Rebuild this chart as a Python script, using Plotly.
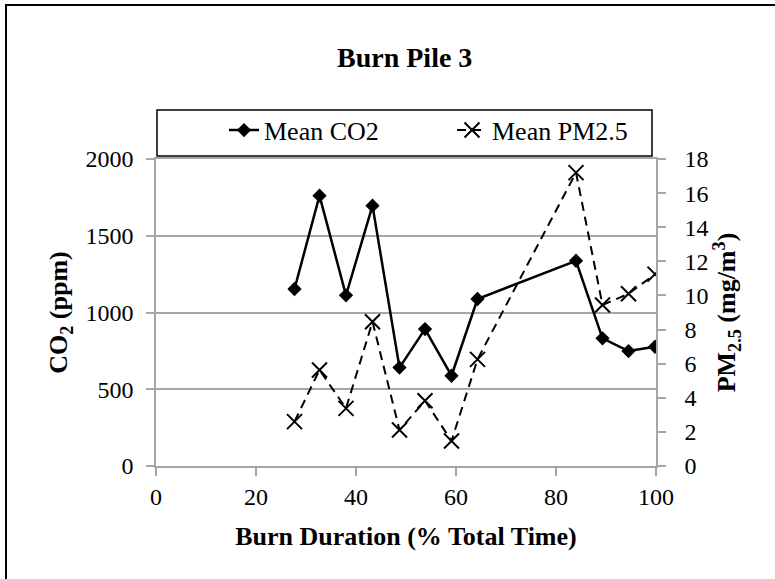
import plotly.graph_objects as go

# Data
burn_pct = [27.7, 32.7, 38.0, 43.3, 48.7, 53.8, 59.1, 64.3, 84.0, 89.3, 94.5, 99.8]
mean_co2 = [1153, 1761, 1112, 1696, 641, 892, 588, 1088, 1337, 832, 749, 777]
mean_pm25 = [2.6, 5.63, 3.38, 8.46, 2.11, 3.83, 1.47, 6.25, 17.2, 9.44, 10.1, 11.25]

x_ticks = [0, 20, 40, 60, 80, 100]
co2_ticks = [0, 500, 1000, 1500, 2000]
pm_ticks = [0, 2, 4, 6, 8, 10, 12, 14, 16, 18]

FONT = "Liberation Serif"
GRAY = "#a6a6a6"

fig = go.Figure()
fig.add_trace(go.Scatter(
    x=burn_pct, y=mean_co2, name="Mean CO2", mode="lines+markers",
    line=dict(color="black", width=2.5),
    marker=dict(symbol="diamond", size=11, color="black"),
    yaxis="y", legend="legend"))
fig.add_trace(go.Scatter(
    x=burn_pct, y=mean_pm25, name="Mean PM2.5", mode="lines+markers",
    line=dict(color="black", width=2, dash="9px,6px"),
    marker=dict(symbol="x-thin", size=15, line=dict(color="black", width=2)),
    yaxis="y2", legend="legend2"))

axis_font = dict(family=FONT, size=24, color="black")
title_font = dict(family=FONT, size=26, color="black", weight="bold")
legend_font = dict(family=FONT, size=26, color="black")

fig.update_layout(
    width=775, height=579, autosize=False,
    margin=dict(l=156, r=119, t=159, b=113),
    paper_bgcolor="white", plot_bgcolor="white",
    font=dict(family=FONT, color="black"),
    showlegend=True,
    legend=dict(orientation="h", x=0.136, y=1.094, xanchor="left", yanchor="middle",
                font=legend_font, bgcolor="rgba(0,0,0,0)", borderwidth=0),
    legend2=dict(orientation="h", x=0.592, y=1.094, xanchor="left", yanchor="middle",
                 font=legend_font, bgcolor="rgba(0,0,0,0)", borderwidth=0),
    xaxis=dict(range=[0, 100], tickvals=x_ticks, ticks="outside", ticklen=8,
               tickcolor=GRAY, tickwidth=1.5, showline=True, linecolor=GRAY, linewidth=1.5,
               mirror=True, showgrid=False, zeroline=False, tickfont=axis_font,
               title=dict(text="Burn Duration (% Total Time)", font=title_font, standoff=18)),
    yaxis=dict(range=[0, 2000], tickvals=co2_ticks, ticks="outside", ticklen=8,
               tickcolor=GRAY, tickwidth=1.5, showline=True, linecolor=GRAY, linewidth=1.5,
               showgrid=True, gridcolor=GRAY, gridwidth=1.5, zeroline=False,
               tickfont=axis_font, ticklabelstandoff=8,
               title=dict(text="CO<sub>2</sub> (ppm)", font=title_font, standoff=10)),
    yaxis2=dict(range=[0, 18], tickvals=pm_ticks, ticks="outside", ticklen=8,
                tickcolor=GRAY, tickwidth=1.5, showline=True, linecolor=GRAY, linewidth=1.5,
                showgrid=False, zeroline=False, overlaying="y", side="right",
                tickfont=axis_font, ticklabelstandoff=14,
                title=dict(text="PM<sub>2.5</sub> (mg/m<sup>3</sup>)", font=title_font, standoff=9)),
    shapes=[
        dict(type="rect", xref="paper", yref="paper", x0=-0.3, x1=1.25, y0=-0.4, y1=1.5016,
             line=dict(color="black", width=2), fillcolor="rgba(0,0,0,0)", layer="below"),
        dict(type="rect", xref="paper", yref="paper", x0=0.002, x1=0.992, y0=1.0098, y1=1.1596,
             line=dict(color="black", width=1.5), fillcolor="white", layer="below"),
    ],
    annotations=[
        dict(text="Burn Pile 3", xref="paper", yref="paper", x=0.496, y=1.332,
             xanchor="center", yanchor="middle", showarrow=False,
             font=dict(family=FONT, size=28, color="black", weight="bold")),
    ],
)

fig.write_html("out.html")
